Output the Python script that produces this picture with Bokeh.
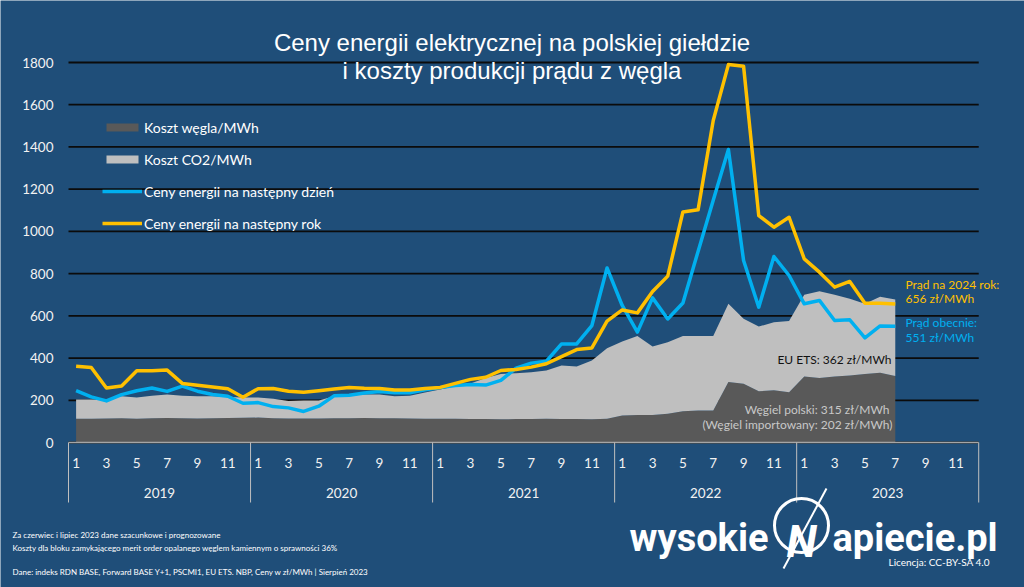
from bokeh.plotting import figure
from bokeh.models import ColumnDataSource, Range1d, Legend, LegendItem
from bokeh.core.properties import value
from bokeh.embed import file_html
from bokeh.resources import INLINE

# ---------------- data ----------------
years = ["2019", "2020", "2021", "2022", "2023"]
month_ticks = [1, 3, 5, 7, 9, 11]
y_ticks = [0, 200, 400, 600, 800, 1000, 1200, 1400, 1600, 1800]

# Jan 2019 .. Jul 2023 (55 months), zł/MWh
coal_cost = [112, 113, 114, 115, 113, 115, 116, 115, 114, 115, 116, 117,
             118, 115, 114, 114, 114, 115, 115, 116, 115, 115, 114, 113,
             112, 112, 111, 111, 110, 111, 111, 112, 111, 111, 110, 112,
             128, 130, 130, 136, 148, 152, 152, 286, 278, 243, 247, 238,
             313, 306, 313, 317, 325, 330, 315]
co2_cost = [92, 91, 88, 104, 100, 107, 111, 107, 105, 104, 100, 96,
            95, 92, 83, 85, 85, 104, 107, 111, 112, 104, 108, 124,
            139, 155, 169, 194, 215, 217, 222, 229, 254, 249, 278, 335,
            350, 374, 325, 339, 357, 352, 352, 371, 308, 306, 323, 337,
            387, 411, 387, 364, 332, 360, 362]
day_ahead = [246, 216, 197, 227, 245, 258, 242, 267, 243, 227, 219, 186,
             189, 170, 164, 147, 172, 221, 224, 234, 242, 236, 236, 250,
             260, 270, 275, 272, 294, 352, 376, 385, 467, 467, 554, 827,
             649, 523, 685, 585, 661, 905, 1148, 1388, 862, 641, 881, 791,
             657, 673, 578, 581, 496, 552, 551]
year_ahead = [361, 355, 258, 268, 340, 340, 343, 280, 271, 263, 255, 214,
              255, 256, 243, 238, 245, 253, 260, 257, 256, 249, 249, 256,
              261, 280, 299, 309, 341, 346, 357, 373, 407, 440, 448, 575,
              628, 614, 715, 788, 1092, 1102, 1525, 1790, 1782, 1075, 1020, 1067,
              870, 807, 736, 763, 660, 660, 656]

# ---------------- geometry & style ----------------
W, H = 1024, 587
BG = "#1F4E79"
DARK = "#595959"
LIGHT = "#BFBFBF"
YELLOW = "#FFC000"
BLUE = "#00B0F0"
FONT = "Lato"

X0_PX, MONTH_PX = 75.6, 15.17       # pixel centre of first month, pixels per month
Y0_PX, UNIT_PX = 442.0, 380.0 / 1800  # pixel of value 0, pixels per zł/MWh


def px_to_x(px):
    return (px - X0_PX) / MONTH_PX


def py_to_y(py):
    return (Y0_PX - py) / UNIT_PX


p = figure(width=W, height=H,
           x_range=Range1d(px_to_x(0), px_to_x(W)),
           y_range=Range1d(py_to_y(H), py_to_y(0)),
           min_border=0, toolbar_location=None, output_backend="svg",
           x_axis_location=None, y_axis_location=None,
           background_fill_color=BG, border_fill_color=BG,
           outline_line_color=None)
p.grid.visible = False


def txt(px, py, s, size, color, align="left", baseline="middle",
        font=FONT, style="normal"):
    p.text(x=[px_to_x(px)], y=[py_to_y(py)], text=[s],
           text_font=value(font), text_font_size=f"{size}px",
           text_color=color, text_align=align, text_baseline=baseline,
           text_font_style=style)


n_months = len(years) * 12
x_start = -0.5
x_end = n_months - 0.5

# gridlines
p.segment(x0=x_start, x1=x_end, y0=y_ticks, y1=y_ticks,
          line_color="#0b0b0b", line_width=1.8)

# stacked areas
src = ColumnDataSource(dict(x=list(range(len(coal_cost))),
                            coal=coal_cost, co2=co2_cost,
                            day=day_ahead, year=year_ahead))
areas = p.varea_stack(stackers=["coal", "co2"], x="x", color=[DARK, LIGHT], source=src)

# axis baseline and year separators
p.segment(x0=x_start, x1=x_end, y0=0, y1=0, line_color="#A6A6A6", line_width=1.5)
bounds = [12 * k - 0.5 for k in range(len(years) + 1)]
p.segment(x0=bounds, x1=bounds, y0=0, y1=py_to_y(502),
          line_color="#BFBFBF", line_width=1)

# lines
r_day = p.line("x", "day", source=src, line_color=BLUE, line_width=3.5, line_join="round")
r_year = p.line("x", "year", source=src, line_color=YELLOW, line_width=3.5, line_join="round")

# y tick labels
p.text(x=[px_to_x(53)] * len(y_ticks), y=y_ticks, text=[str(t) for t in y_ticks],
       text_font=value(FONT), text_font_size="13.5px", text_color="#F2F2F2",
       text_align="right", text_baseline="middle")

# month and year labels
mx, ml = [], []
for k, yr in enumerate(years):
    for m in month_ticks:
        mx.append(12 * k + m - 1)
        ml.append(str(m))
p.text(x=mx, y=[py_to_y(462)] * len(mx), text=ml,
       text_font=value(FONT), text_font_size="13.5px", text_color="#F2F2F2",
       text_align="center", text_baseline="middle")
p.text(x=[12 * k + 5.5 for k in range(len(years))], y=[py_to_y(492)] * len(years),
       text=years, text_font=value(FONT), text_font_size="13.5px",
       text_color="#F2F2F2", text_align="center", text_baseline="middle")

# legend
legend = Legend(items=[
    LegendItem(label="Koszt węgla/MWh", renderers=[areas[0]]),
    LegendItem(label="Koszt CO2/MWh", renderers=[areas[1]]),
    LegendItem(label="Ceny energii na następny dzień", renderers=[r_day]),
    LegendItem(label="Ceny energii na następny rok", renderers=[r_year]),
], location=(102, 354), orientation="vertical",
    glyph_width=40, glyph_height=10, label_height=20, spacing=12,
    padding=0, margin=0, label_standoff=2,
    background_fill_alpha=0, border_line_alpha=0,
    label_text_color="white", label_text_font=FONT, label_text_font_size="14px")
p.add_layout(legend)

# title
txt(511.5, 42, "Ceny energii elektrycznej na polskiej giełdzie", 24, "white",
    align="center", baseline="alphabetic", font="Liberation Sans")
txt(511.5, 70, "i koszty produkcji prądu z węgla", 24, "white",
    align="center", baseline="alphabetic", font="Liberation Sans")

# end-of-series annotations
txt(905, 283.5, "Prąd na 2024 rok:", 12, YELLOW)
txt(905, 298, f"{year_ahead[-1]} zł/MWh", 12, YELLOW)
txt(905, 322, "Prąd obecnie:", 12, BLUE)
txt(905, 337, f"{day_ahead[-1]} zł/MWh", 12, BLUE)
txt(891, 359, f"EU ETS: {co2_cost[-1]} zł/MWh", 12, "#111111", align="right")
txt(889, 409, f"Węgiel polski: {coal_cost[-1]} zł/MWh", 12, "#C8C8C8", align="right")
txt(892, 423.5, "(Węgiel importowany: 202 zł/MWh)", 12, "#C8C8C8", align="right")

# footnotes
txt(12, 534.5, "Za czerwiec i lipiec 2023 dane szacunkowe i prognozowane", 8, "white")
txt(12, 547, "Koszty dla bloku zamykającego merit order opalanego węglem kamiennym o sprawności 36%", 8, "white")
txt(12, 571, "Dane: indeks RDN BASE, Forward BASE Y+1, PSCMI1, EU ETS. NBP, Ceny w zł/MWh  | Sierpień 2023", 8, "white")
txt(888, 561, "Licencja: CC-BY-SA 4.0", 10, "white")

# logo
txt(768, 537, "wysokie", 38, "white", align="right", baseline="alphabetic",
    font="Roboto", style="bold")
txt(832, 537, "apiecie.pl", 38, "white", align="left", baseline="alphabetic",
    font="Roboto", style="bold")
p.scatter(x=[px_to_x(801)], y=[py_to_y(525)], size=54, marker="circle",
          fill_alpha=0, line_color="white", line_width=3)
txt(801, 541, "N", 44, "white", align="center", baseline="alphabetic",
    font="Roboto", style="bold italic")
p.line(x=[px_to_x(783), px_to_x(826)], y=[py_to_y(568), py_to_y(488)],
       line_color="white", line_width=2)

open("out.html", "w").write(file_html(p, INLINE))
